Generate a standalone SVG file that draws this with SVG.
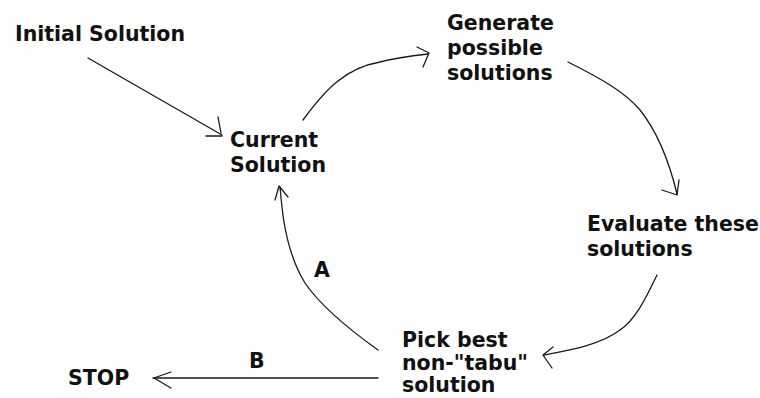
<svg xmlns="http://www.w3.org/2000/svg" width="760" height="398" viewBox="0 0 760 398">
<style>
.t{font-family:"DejaVu Sans","Verdana",sans-serif;font-weight:bold;font-size:20.5px;fill:#111}
.c{fill:none;stroke:#1a1a1a;stroke-width:1.3;stroke-linecap:round;stroke-linejoin:round}
</style>
<rect width="760" height="398" fill="#ffffff"/>
<g id="initial"><text class="t" x="15" y="41">Initial Solution</text></g>
<g id="current"><text class="t" x="230" y="147">Current</text><text class="t" x="230" y="172">Solution</text></g>
<g id="generate"><text class="t" x="447" y="30">Generate</text><text class="t" x="447" y="55">possible</text><text class="t" x="447" y="80">solutions</text></g>
<g id="evaluate"><text class="t" x="587" y="231">Evaluate these</text><text class="t" x="587" y="256">solutions</text></g>
<g id="pick"><text class="t" x="402" y="347">Pick best</text><text class="t" x="402" y="370">non-"tabu"</text><text class="t" x="402" y="392">solution</text></g>
<g id="stop"><text class="t" x="68" y="385">STOP</text></g>
<g id="connectors">
<path class="c" d="M88,58 L222,135"/>
<path class="c" d="M206,136 L222,136 M218,117 L221,133"/>
<path class="c" d="M303,120 C325,90 345,68 380,62 C395,58 410,56 428,54"/>
<path class="c" d="M417,47 L429,53 L423,67"/>
<path class="c" d="M568,62 C600,78 625,92 640,110 C660,135 670,165 677,194"/>
<path class="c" d="M662,190 L677,195 L679,180"/>
<path class="c" d="M657,275 C645,300 635,320 620,330 C600,345 570,350 544,355"/>
<path class="c" d="M553,347 L543,355 L552,368"/>
<path class="c" d="M378,350 C350,330 320,305 305,283 C292,262 287,240 284,222 C282,210 281,198 280,187"/>
<path class="c" d="M275,200 L279,186 L288,197"/>
<text class="t" x="314" y="277">A</text>
<path class="c" d="M378,378 L153,378"/>
<path class="c" d="M171,372 L154,378 L171,388"/>
<text class="t" x="249" y="368">B</text>
</g>
</svg>
